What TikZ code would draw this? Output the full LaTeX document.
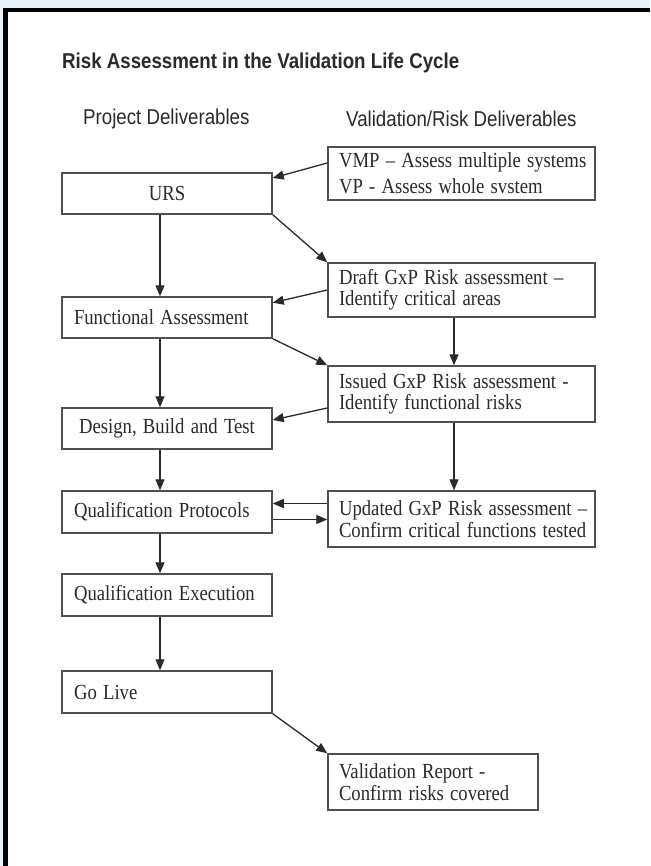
\documentclass[tikz,border=0pt]{standalone}
\usepackage{fontspec}
\usepackage{graphicx}
\setmainfont{Liberation Serif}
\setsansfont{Liberation Sans}
\usetikzlibrary{arrows.meta}
\definecolor{bgblue}{HTML}{E8F0F8}
\definecolor{ink}{HTML}{2A2A2A}
\definecolor{boxline}{HTML}{505050}
\newcommand{\boxfont}{\fontsize{18.7}{21.3}\selectfont}
\newcommand{\tl}[1]{\scalebox{1}[1.15]{#1}}
\tikzset{
  lbox/.style={draw=boxline, line width=1.5pt, minimum width=210pt, text width=186pt,
    inner xsep=12pt, inner ysep=0pt, align=left, font=\boxfont, text=ink},
  rbox/.style={draw=boxline, line width=1.5pt, minimum width=267pt, text width=245pt,
    inner xsep=11pt, inner ysep=0pt, align=left, font=\boxfont, text=ink},
  conn/.style={draw=ink, line width=1.3pt, -{Triangle[length=11pt,width=9pt]}},
  heading/.style={font=\sffamily\fontsize{18.7}{22}\selectfont, text=ink, inner sep=0pt, anchor=west}
}
\begin{document}
\begin{tikzpicture}[x=1pt,y=-1pt]
\useasboundingbox (0,0) rectangle (650,866);
\fill[bgblue] (0,0) rectangle (650,866);
\fill[black] (3,8) rectangle (650,866);
\fill[white] (8,12) rectangle (650,866);

\node[heading, font=\sffamily\bfseries\fontsize{18.7}{22}\selectfont] (title) at (62,63) {\tl{Risk Assessment in the Validation Life Cycle}};
\node[heading] (hproj) at (83,119) {\tl{Project Deliverables}};
\node[heading] (hval) at (346,119) {\tl{Validation/Risk Deliverables}};

% left column
\node[lbox, minimum height=41pt, align=center] (urs) at (167,193.5) {\tl{URS}};
\node[lbox, minimum height=41pt] (func) at (167,317.5) {\tl{Functional Assessment}};
\node[lbox, minimum height=41pt, align=center] (design) at (167,428.5) {\tl{Design, Build and Test}};
\node[lbox, minimum height=42pt] (qp) at (167,512) {\tl{Qualification Protocols}};
\node[lbox, minimum height=42pt] (qe) at (167,595) {\tl{Qualification Execution}};
\node[lbox, minimum height=42pt] (golive) at (167,692) {\tl{Go Live}};

% right column
\node[rbox, minimum height=53pt, font=\fontsize{18.7}{26}\selectfont] (vmp) at (461.5,173.5)
  {\tl{VMP -- Assess multiple systems}\\\tl{VP - Assess whole svstem}};
\node[rbox, minimum height=54pt] (draft) at (461.5,290)
  {\tl{Draft GxP Risk assessment --}\\\tl{Identify critical areas}};
\node[rbox, minimum height=56pt] (issued) at (461.5,394)
  {\tl{Issued GxP Risk assessment -}\\\tl{Identify functional risks}};
\node[rbox, minimum height=56pt] (updated) at (461.5,519)
  {\tl{Updated GxP Risk assessment --}\\\tl{Confirm critical functions tested}};
\node[rbox, minimum width=210pt, text width=188pt, minimum height=56pt] (vr) at (433,782)
  {\tl{Validation Report -}\\\tl{Confirm risks covered}};

% connectors
\draw[conn] ([yshift=10.5pt]vmp.west) -- ([yshift=15.5pt]urs.east);
\draw[conn] (urs.south east) -- (draft.north west);
\draw[conn] ([xshift=-7pt]urs.south) -- ([xshift=-7pt]func.north);
\draw[conn] (draft.west) -- ([yshift=14.8pt]func.east);
\draw[conn] (func.south east) -- (issued.north west);
\draw[conn] ([xshift=-7.5pt]draft.south) -- ([xshift=-7.5pt]issued.north);
\draw[conn] ([xshift=-7pt]func.south) -- ([xshift=-7pt]design.north);
\draw[conn] ([yshift=-14pt]issued.west) -- ([yshift=8.5pt]design.east);
\draw[conn] ([xshift=-7pt]design.south) -- ([xshift=-7pt]qp.north);
\draw[conn] ([xshift=-7.5pt]issued.south) -- ([xshift=-7.5pt]updated.north);
\draw[conn] ([yshift=15.5pt]updated.west) -- ([yshift=8.5pt]qp.east);
\draw[conn] ([yshift=-7.5pt]qp.east) -- ([yshift=-0.5pt]updated.west);
\draw[conn] ([xshift=-7pt]qp.south) -- ([xshift=-7pt]qe.north);
\draw[conn] ([xshift=-7pt]qe.south) -- ([xshift=-7pt]golive.north);
\draw[conn] (golive.south east) -- (vr.north west);
\end{tikzpicture}
\end{document}
